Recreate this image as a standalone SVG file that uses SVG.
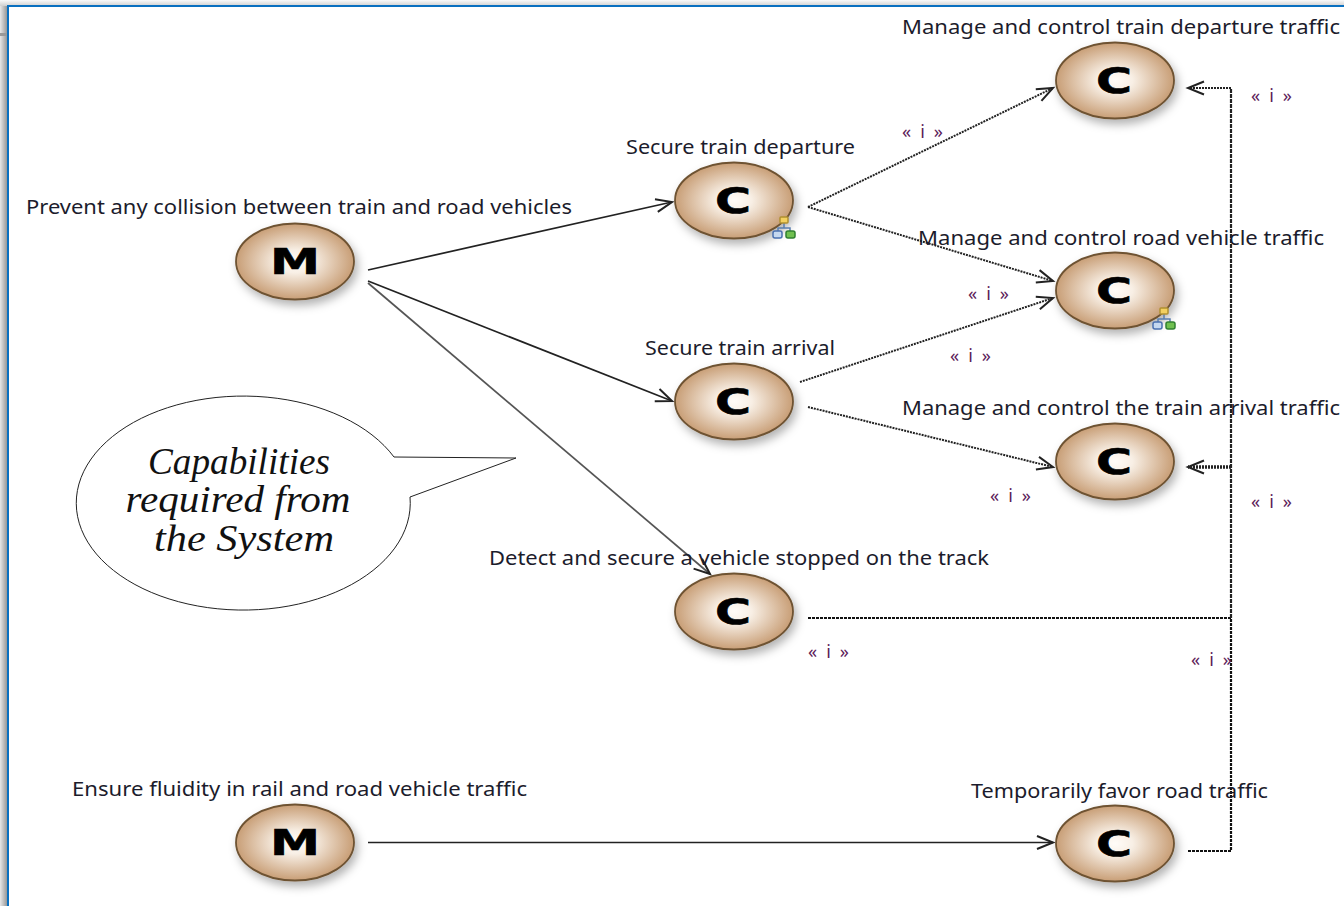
<svg xmlns="http://www.w3.org/2000/svg" xmlns:xlink="http://www.w3.org/1999/xlink" width="1344" height="906" viewBox="0 0 1344 906">
<style>
.n{fill:url(#g);stroke:#6e5232;stroke-width:1.8;filter:url(#s);ry:38px}
.l{font:19.5px "Noto Sans",sans-serif;fill:#1c1c2c;transform:translateY(1px)}
.i{font:18px "Noto Sans",sans-serif;fill:#5c2058;transform:translateY(1px)}
.k{font:bold 35px "DejaVu Sans",sans-serif;fill:#000;stroke:#000;stroke-width:.6;text-anchor:middle}
.sol{fill:none;stroke:#222;stroke-width:1.7;marker-end:url(#a)}
.dot{fill:none;stroke:#222;stroke-width:2;stroke-dasharray:2 1;marker-end:url(#a)}
.bus{fill:none;stroke:#111;stroke-width:2.2;stroke-dasharray:3 1}
.h{font:italic 38px "Liberation Serif",serif;fill:#111;text-anchor:middle}
</style>
<defs>
<radialGradient id="g" cx="50%" cy="50%" r="50%"><stop offset="0" stop-color="#fffcf8"/><stop offset=".3" stop-color="#f8efe5"/><stop offset="1" stop-color="#c89e76"/></radialGradient>
<linearGradient id="ls" x1="0" x2="1" y1="0" y2="0"><stop offset="0" stop-color="#e8e8e8"/><stop offset="1" stop-color="#8c8c8c"/></linearGradient>
<linearGradient id="ts" x1="0" x2="0" y1="0" y2="1"><stop offset="0" stop-color="#fafafa"/><stop offset="1" stop-color="#d0d0d0"/></linearGradient>
<filter id="s" x="-20%" y="-20%" width="150%" height="160%"><feDropShadow dx="3" dy="5" stdDeviation="5" flood-color="#000" flood-opacity=".3"/></filter>
<marker id="a" markerUnits="userSpaceOnUse" markerWidth="22" markerHeight="18" refX="18" refY="8" orient="auto"><path d="M2,1.500L18,8L2,14.500" fill="none" stroke="#222" stroke-width="2"/></marker>
<g id="tree"><path d="M0,-6V-1M-6,4V-1H6V4" fill="none" stroke="#5a7fb0" stroke-width="1.500"/><rect x="-4" y="-12" width="8" height="6" rx="1" fill="#f3d060" stroke="#b09030" stroke-width="1.500"/><rect x="-11" y="2" width="9" height="7" rx="2" fill="#c5d8f0" stroke="#4a70b0" stroke-width="1.500"/><rect x="2" y="2" width="9" height="7" rx="2" fill="#70c050" stroke="#308030" stroke-width="1.500"/></g>
</defs>
<rect width="1344" height="906" fill="#fff"/>
<g id="frame">
<rect x="0" y="0" width="8" height="906" fill="url(#ls)"/>
<rect x="0" y="0" width="1344" height="6" fill="url(#ts)"/>
<rect x="0" y="33" width="8" height="3" fill="#999"/>
<path d="M8,906V6H1344" fill="none" stroke="#0a70c0" stroke-width="2"/>
</g>
<g id="connectors">
<path class="sol" d="M368,270L672,202"/>
<path class="sol" d="M368,281L672,401"/>
<path class="sol" d="M368,283L710,574" style="stroke:#555"/>
<path class="sol" d="M368,842.500H1053"/>
<path class="dot" d="M808,207L1053,88"/>
<path class="dot" d="M808,207L1053,281"/>
<path class="dot" d="M800,382L1053,298"/>
<path class="dot" d="M808,407L1053,467"/>
<path class="bus" d="M808,618H1231"/>
<path class="bus" d="M1188,851H1231V618"/>
<path d="M1231,618V88" fill="none" stroke="#222" stroke-width="2.200" stroke-dasharray="4 1"/>
<path class="dot" d="M1231,88H1188" style="stroke-width:2.200"/>
<path class="dot" d="M1231,467H1188" style="stroke-width:3.500"/>
</g>
<g id="node-prevent"><ellipse class="n" cx="295" cy="261.500" rx="59" ry="38"/><text class="k" x="295" y="274" textLength="50" lengthAdjust="spacingAndGlyphs">M</text><text class="l" x="26" y="213" textLength="546" lengthAdjust="spacingAndGlyphs">Prevent any collision between train and road vehicles</text></g>
<g id="node-departure"><ellipse class="n" cx="734" cy="200.500" rx="59" ry="38"/><text class="k" x="733" y="213" textLength="36" lengthAdjust="spacingAndGlyphs">C</text><text class="l" x="626" y="153" textLength="229" lengthAdjust="spacingAndGlyphs">Secure train departure</text><use xlink:href="#tree" href="#tree" x="784" y="229"/></g>
<g id="node-arrival"><ellipse class="n" cx="734" cy="401.500" rx="59" ry="38"/><text class="k" x="733" y="414" textLength="36" lengthAdjust="spacingAndGlyphs">C</text><text class="l" x="645" y="354" textLength="190" lengthAdjust="spacingAndGlyphs">Secure train arrival</text></g>
<g id="node-detect"><ellipse class="n" cx="734" cy="611.500" rx="59" ry="38"/><text class="k" x="733" y="624" textLength="36" lengthAdjust="spacingAndGlyphs">C</text><text class="l" x="489" y="564" textLength="500" lengthAdjust="spacingAndGlyphs">Detect and secure a vehicle stopped on the track</text></g>
<g id="node-mc-departure"><ellipse class="n" cx="1115" cy="80.500" rx="59" ry="38"/><text class="k" x="1114" y="93" textLength="36" lengthAdjust="spacingAndGlyphs">C</text><text class="l" x="902" y="33" textLength="438" lengthAdjust="spacingAndGlyphs">Manage and control train departure traffic</text></g>
<g id="node-mc-road"><ellipse class="n" cx="1115" cy="290.500" rx="59" ry="38"/><text class="k" x="1114" y="303" textLength="36" lengthAdjust="spacingAndGlyphs">C</text><text class="l" x="918" y="244" textLength="406" lengthAdjust="spacingAndGlyphs">Manage and control road vehicle traffic</text><use xlink:href="#tree" href="#tree" x="1164" y="320"/></g>
<g id="node-mc-arrival"><ellipse class="n" cx="1115" cy="461.500" rx="59" ry="38"/><text class="k" x="1114" y="474" textLength="36" lengthAdjust="spacingAndGlyphs">C</text><text class="l" x="902" y="414" textLength="438" lengthAdjust="spacingAndGlyphs">Manage and control the train arrival traffic</text></g>
<g id="node-ensure"><ellipse class="n" cx="295" cy="842.500" rx="59" ry="38"/><text class="k" x="295" y="855" textLength="50" lengthAdjust="spacingAndGlyphs">M</text><text class="l" x="72" y="795" textLength="455" lengthAdjust="spacingAndGlyphs">Ensure fluidity in rail and road vehicle traffic</text></g>
<g id="node-favor"><ellipse class="n" cx="1115" cy="843.500" rx="59" ry="38"/><text class="k" x="1114" y="856" textLength="36" lengthAdjust="spacingAndGlyphs">C</text><text class="l" x="971" y="797" textLength="297" lengthAdjust="spacingAndGlyphs">Temporarily favor road traffic</text></g>
<g id="labels">
<text class="i" x="902" y="137" textLength="41">« i »</text>
<text class="i" x="1251" y="101" textLength="41">« i »</text>
<text class="i" x="968" y="299" textLength="41">« i »</text>
<text class="i" x="950" y="361" textLength="41">« i »</text>
<text class="i" x="990" y="501" textLength="41">« i »</text>
<text class="i" x="1251" y="507" textLength="41">« i »</text>
<text class="i" x="808" y="657" textLength="41">« i »</text>
<text class="i" x="1191" y="665" textLength="41">« i »</text>
</g>
<g id="callout">
<path d="M394,457L516,458L410,497A167,107 0 1 1 394,457Z" fill="#fff" stroke="#222" stroke-width="1"/>
<text class="h" x="239" y="474" textLength="182" lengthAdjust="spacingAndGlyphs">Capabilities</text>
<text class="h" x="238" y="512" textLength="225" lengthAdjust="spacingAndGlyphs">required from</text>
<text class="h" x="244" y="551" textLength="180" lengthAdjust="spacingAndGlyphs">the System</text>
</g>
</svg>
